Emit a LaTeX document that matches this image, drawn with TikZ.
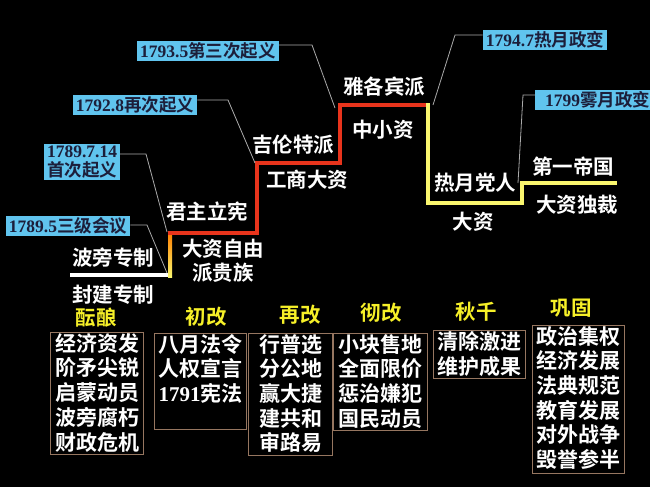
\documentclass[tikz,border=0pt]{standalone}
\usepackage{fontspec}
\setmainfont{Liberation Serif}
\newfontfamily\cjk{Noto Sans CJK SC}[BoldFont={* Bold}]
\definecolor{skyb}{RGB}{96,196,238}
\definecolor{navytx}{RGB}{28,30,58}
\definecolor{stepred}{RGB}{232,52,28}
\definecolor{stepyel}{RGB}{250,246,110}
\definecolor{headyel}{RGB}{246,240,40}
\definecolor{boxtan}{RGB}{150,118,96}
\definecolor{conngray}{RGB}{170,170,170}
\begin{document}
\begin{tikzpicture}[x=1pt,y=-1pt,
  lbl/.style={text=white,inner sep=0pt,font=\cjk\bfseries\fontsize{20.5}{24}\selectfont,align=center},
  datebox/.style={fill=skyb,text=navytx,inner xsep=3pt,inner ysep=1.5pt,align=center,
     font=\bfseries\fontsize{17.5}{18}\selectfont},
  head/.style={text=headyel,inner sep=0pt,font=\cjk\bfseries\fontsize{20.5}{24}\selectfont},
  listbox/.style={draw=boxtan,line width=1.2pt,anchor=north west,inner sep=0pt},
  listtx/.style={text=white,anchor=north,inner xsep=0pt,inner ysep=1pt,align=center,
     font=\cjk\bfseries\fontsize{21}{24.7}\selectfont},
  conn/.style={draw=conngray,line width=0.8pt},
  stepline/.style={line width=4.4pt,line join=miter}]
\fill[black] (0,0) rectangle (650,487);
\useasboundingbox (0,0) rectangle (650,487);
\newcommand\cj[1]{{\cjk\bfseries #1}}
% step line
\draw[stepline,white] (70,275) -- (171,275);
\shade[top color=orange,bottom color=stepyel] (168,233) rectangle (172.2,277);
\draw[stepline,stepred] (168,233) -- (257,233) -- (257,163) -- (340,163) -- (340,105) -- (430,105);
\draw[stepline,stepyel] (428,103) -- (428,203) -- (522,203) -- (522,183) -- (617,183);
% step labels
\node[lbl] (bourbon) at (113,258) {波旁专制};
\node[lbl] (feudal) at (113,295) {封建专制};
\node[lbl] (constit) at (207,212) {君主立宪};
\node[lbl] (bignoble) at (223,261) {大资自由\\派贵族};
\node[lbl] (girond) at (293,145) {吉伦特派};
\node[lbl] (indcap) at (307,180) {工商大资};
\node[lbl] (jacobin) at (384,87) {雅各宾派};
\node[lbl] (petty) at (383,130) {中小资};
\node[lbl] (thermid) at (475,183) {热月党人};
\node[lbl] (bigcap) at (473,222) {大资};
\node[lbl] (empire) at (573,167) {第一帝国};
\node[lbl] (dictat) at (577,205) {大资独裁};
% date boxes
\node[datebox,inner ysep=2.2pt,font=\bfseries\fontsize{17.5}{19}\selectfont] (d2) at (82,162) {1789.7.14\\\cj{首次起义}};
\node[datebox] (d1) at (68,226) {1789.5\cj{三级会议}};
\node[datebox] (d3) at (135,105) {1792.8\cj{再次起义}};
\node[datebox] (d4) at (208,51) {1793.5\cj{第三次起义}};
\node[datebox] (d5) at (545,40) {1794.7\cj{热月政变}};
\node[datebox,anchor=west,inner xsep=6pt,minimum width=125pt,align=left] (d6) at (535,100) {1799\cj{雾月政变}};
% connectors
\coordinate (k1) at (147,225); \coordinate (e1) at (167,273);
\coordinate (k2) at (146,154); \coordinate (e2) at (167,232);
\coordinate (k3) at (228,100); \coordinate (e3) at (255,163);
\coordinate (k4) at (312,45);  \coordinate (e4) at (335,108);
\coordinate (k5) at (455,35);  \coordinate (e5) at (433,105);
\coordinate (k6) at (523,95);  \coordinate (e6) at (518,183);
\draw[conn] (d1.east |- k1) -- (k1) -- (e1);
\draw[conn] (d2.east |- k2) -- (k2) -- (e2);
\draw[conn] (d3.east |- k3) -- (k3) -- (e3);
\draw[conn] (d4.east |- k4) -- (k4) -- (e4);
\draw[conn] (d5.west |- k5) -- (k5) -- (e5);
\draw[conn] (d6.west |- k6) -- (k6) -- (e6);
% headings
\node[head] (h1) at (96,318) {酝酿};
\node[head] (h2) at (206,317) {初改};
\node[head] (h3) at (300,315) {再改};
\node[head] (h4) at (381,313) {彻改};
\node[head] (h5) at (476,312) {秋千};
\node[head] (h6) at (571,308) {巩固};
% lists
\node[listbox,minimum width=93pt,minimum height=122pt] (b1) at (50,332) {};
\node[listtx] (t1) at (b1.north) {经济资发\\阶矛尖锐\\启蒙动员\\波旁腐朽\\财政危机};
\node[listbox,minimum width=92pt,minimum height=96pt] (b2) at (154,333) {};
\node[listtx] (t2) at (b2.north) {八月法令\\人权宣言\\{\normalfont\bfseries 1791}宪法};
\node[listbox,minimum width=84pt,minimum height=122pt] (b3) at (248,333) {};
\node[listtx] (t3) at (b3.north) {行普选\\分公地\\赢大捷\\建共和\\审路易};
\node[listbox,minimum width=94pt,minimum height=97pt] (b4) at (333,333) {};
\node[listtx] (t4) at (b4.north) {小块售地\\全面限价\\惩治嫌犯\\国民动员};
\node[listbox,minimum width=92pt,minimum height=48pt] (b5) at (433,330) {};
\node[listtx] (t5) at (b5.north) {清除激进\\维护成果};
\node[listbox,minimum width=92pt,minimum height=148pt] (b6) at (532,325) {};
\node[listtx] (t6) at (b6.north) {政治集权\\经济发展\\法典规范\\教育发展\\对外战争\\毁誉参半};
\end{tikzpicture}
\end{document}
